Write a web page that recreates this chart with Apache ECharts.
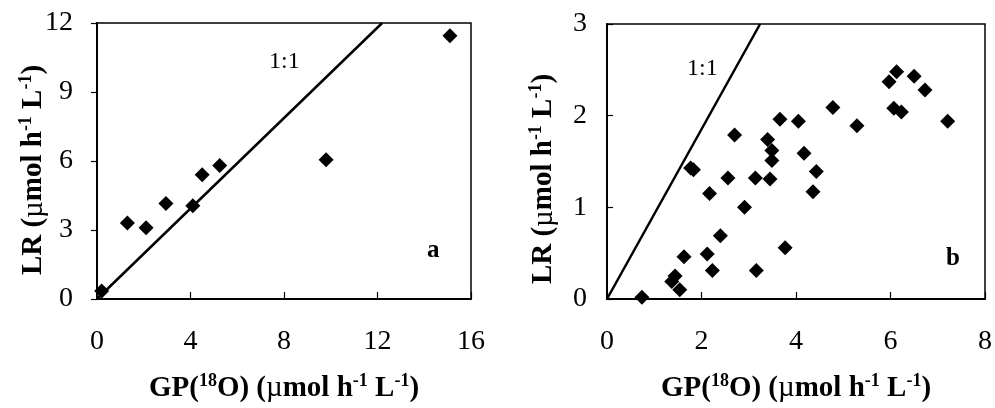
<!DOCTYPE html>
<html><head><meta charset="utf-8">
<script src="https://cdn.jsdelivr.net/npm/echarts@6/dist/echarts.min.js"></script>
<style>html,body{margin:0;padding:0;background:#fff}#c{width:995px;height:408px}</style>
</head><body><div id="c"></div>
<script>
// Panel a data
const aX = [0.2, 1.3, 2.1, 2.95, 4.1, 4.5, 5.25, 9.8, 15.1];
const aY = [0.35, 3.3, 3.1, 4.15, 4.05, 5.4, 5.8, 6.05, 11.45];
const aLineX = [0, 12.2];
const aLineY = [0, 12];
// Panel b data
const bX = [0.74,1.37,1.44,1.54,1.63,1.77,1.83,2.12,2.17,2.23,2.40,2.56,2.70,2.91,3.14,3.16,3.40,3.45,3.49,3.49,3.66,3.77,4.05,4.17,4.36,4.43,4.78,5.29,5.97,6.07,6.13,6.23,6.50,6.73,7.21];
const bY = [0.02,0.19,0.25,0.10,0.46,1.43,1.41,0.49,1.15,0.31,0.69,1.32,1.79,1.00,1.32,0.31,1.74,1.31,1.62,1.51,1.96,0.56,1.94,1.59,1.17,1.39,2.09,1.89,2.37,2.08,2.48,2.04,2.43,2.28,1.94];
const bLineX = [0, 3.24];
const bLineY = [0, 3];
// Axes
const aXAxis = {min: 0, max: 16, interval: 4};
const aYAxis = {min: 0, max: 12, interval: 3};
const bXAxis = {min: 0, max: 8, interval: 2};
const bYAxis = {min: 0, max: 3, interval: 1};
const xTitle = '{b|GP(}{s|18}{b|O) (}{m|\u00b5}{b|mol h}{s|-1}{b| L}{s|-1}{b|)}';
const yTitle = '{b|LR (}{m|\u00b5}{b|mol h}{s|-1}{b| L}{s|-1}{b|)}';
const lineLabel = '1:1';
const panelLabels = ['a', 'b'];

const FONT = '"Liberation Serif","Times New Roman",serif';
const rich = {
  b: {fontFamily: FONT, fontSize: 29, fontWeight: 'bold', color: '#000', lineHeight: 33},
  m: {fontFamily: FONT, fontSize: 29, fontWeight: 'normal', color: '#000', lineHeight: 33},
  s: {fontFamily: FONT, fontSize: 18, fontWeight: 'bold', color: '#000', lineHeight: 18, verticalAlign: 'top'}
};
const zip = (xs, ys) => xs.map((x, i) => [x, ys[i]]);

function xAx(grid, cfg) {
  return {
    type: 'value', gridIndex: grid, min: cfg.min, max: cfg.max, interval: cfg.interval,
    axisLine: {show: true, onZero: false, lineStyle: {color: '#000', width: 2}},
    axisTick: {show: true, inside: true, length: 7, lineStyle: {color: '#000', width: 1.2}},
    axisLabel: {fontFamily: FONT, fontSize: 28, color: '#000', margin: 29},
    splitLine: {show: false},
    name: xTitle, nameLocation: 'middle', nameGap: 73,
    nameTextStyle: {rich: rich}
  };
}
function yAx(grid, cfg, inside, margin) {
  return {
    type: 'value', gridIndex: grid, min: cfg.min, max: cfg.max, interval: cfg.interval,
    axisLine: {show: true, onZero: false, lineStyle: {color: '#000', width: 2}},
    axisTick: {show: true, inside: inside, length: 6, lineStyle: {color: '#000', width: 1.2}},
    axisLabel: {fontFamily: FONT, fontSize: 28, color: '#000', margin: margin},
    splitLine: {show: false}
  };
}

const chart = echarts.init(document.getElementById('c'), null, {renderer: 'canvas'});
chart.setOption({
  animation: false,
  backgroundColor: '#fff',
  grid: [
    {left: 97, top: 23, width: 374, height: 281, show: true, borderColor: '#000', borderWidth: 1.5, containLabel: false},
    {left: 607, top: 24, width: 381, height: 281, show: true, borderColor: '#000', borderWidth: 1.5, containLabel: false}
  ],
  xAxis: [xAx(0, aXAxis), xAx(1, bXAxis)],
  yAxis: [yAx(0, aYAxis, false, 24), yAx(1, bYAxis, true, 20)],
  series: [
    {type: 'line', xAxisIndex: 0, yAxisIndex: 0, data: zip(aLineX, aLineY), symbol: 'none',
     lineStyle: {color: '#000', width: 2.5}, z: 2},
    {type: 'scatter', xAxisIndex: 0, yAxisIndex: 0, data: zip(aX, aY), symbol: 'diamond', symbolSize: 15,
     itemStyle: {color: '#000', opacity: 1}, z: 3},
    {type: 'line', xAxisIndex: 1, yAxisIndex: 1, data: zip(bLineX, bLineY), symbol: 'none',
     lineStyle: {color: '#000', width: 2.5}, z: 2},
    {type: 'scatter', xAxisIndex: 1, yAxisIndex: 1, data: zip(bX, bY), symbol: 'diamond', symbolSize: 15,
     itemStyle: {color: '#000', opacity: 1}, z: 3}
  ],
  graphic: [
    {type: 'text', x: 34, y: 170, rotation: Math.PI / 2,
     style: {text: yTitle, rich: rich, align: 'center', verticalAlign: 'middle'}},
    {type: 'text', x: 544, y: 179, rotation: Math.PI / 2,
     style: {text: yTitle, rich: rich, align: 'center', verticalAlign: 'middle'}},
    {type: 'text', left: 269, top: 50, style: {text: lineLabel, font: '24px ' + FONT, fill: '#000'}},
    {type: 'text', left: 687, top: 57, style: {text: lineLabel, font: '24px ' + FONT, fill: '#000'}},
    {type: 'text', left: 427, top: 238, style: {text: panelLabels[0], font: 'bold 25px ' + FONT, fill: '#000'}},
    {type: 'text', left: 946, top: 246, style: {text: panelLabels[1], font: 'bold 25px ' + FONT, fill: '#000'}}
  ]
});
</script></body></html>
